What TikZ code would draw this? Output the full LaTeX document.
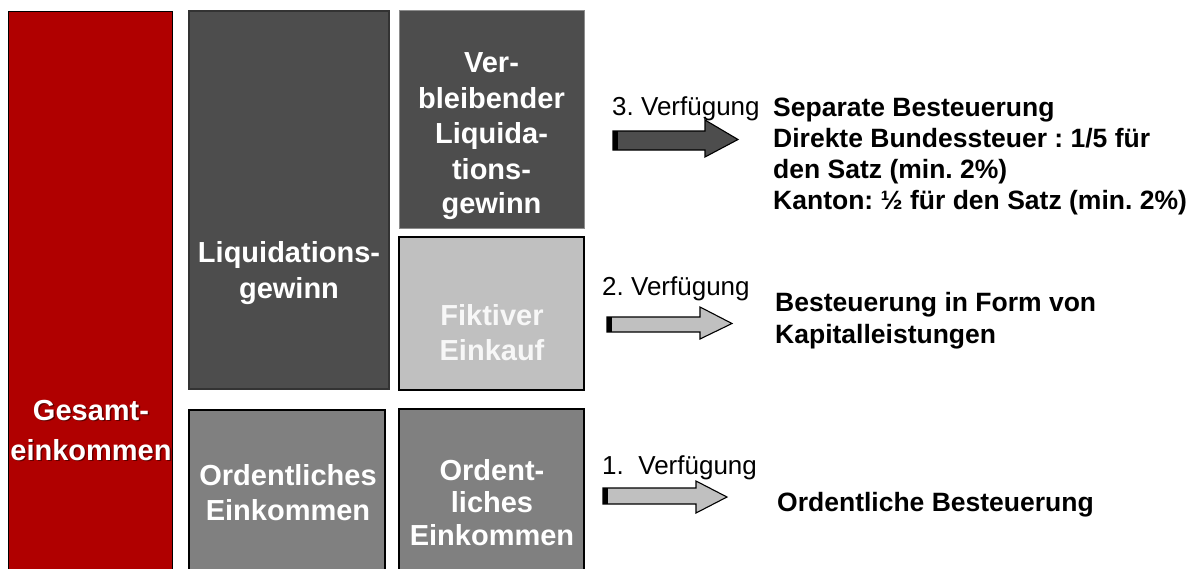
\documentclass[tikz,border=0pt]{standalone}
\usepackage{fontspec}
\setmainfont{Liberation Sans}
\frenchspacing
\definecolor{cred}{HTML}{B00000}
\definecolor{cdark}{HTML}{4D4D4D}
\definecolor{clight}{HTML}{C0C0C0}
\definecolor{cmid}{HTML}{808080}
\begin{document}
\begin{tikzpicture}[x=1pt,y=-1pt,
  box/.style={anchor=north west, inner sep=0pt, outer sep=0pt},
  boxtxt/.style={anchor=base, inner sep=0pt, text=white, font=\fontsize{29}{35}\selectfont\bfseries},
  shadowtxt/.style={anchor=base, inner sep=0pt, text=black, opacity=0.45, font=\fontsize{29}{35}\selectfont\bfseries},
  reg/.style={anchor=base west, inner sep=0pt, font=\fontsize{26}{31}\selectfont},
  bld/.style={anchor=base west, inner sep=0pt, font=\fontsize{26.5}{31}\selectfont\bfseries},
  blockarrow/.style={draw=black, line width=1.1pt, line join=miter}
]
\useasboundingbox (0,0) rectangle (1199,568);
\clip (0,0) rectangle (1199,568);
\fill[white] (0,0) rectangle (1199,568);

% boxes
\node[box, fill=cred, draw=black, line width=0.8pt, minimum width=164pt, minimum height=600pt] (ges) at (8,11) {};
\node[box, fill=cdark, draw=black!80, line width=1.4pt, minimum width=200pt, minimum height=378pt] (liq) at (189,11) {};
\node[box, fill=cmid, draw=black, line width=1.8pt, minimum width=196pt, minimum height=200pt] (ord) at (189,410) {};
\node[box, fill=cdark, draw=black!45, line width=0.8pt, minimum width=185pt, minimum height=218pt] (verb) at (399,10) {};
\node[box, fill=clight, draw=black, line width=1.4pt, minimum width=185pt, minimum height=153pt] (fik) at (399,237) {};
\node[box, fill=cmid, draw=black, line width=1.4pt, minimum width=185pt, minimum height=200pt] (ord2) at (399,409) {};

% box texts
\node[shadowtxt] (gs1) at (92.5,421.5) {Gesamt-};
\node[shadowtxt] (gs2) at (92.5,461.5) {einkommen};
\node[boxtxt] (g1) at (91,420) {Gesamt-};
\node[boxtxt] (g2) at (91,460) {einkommen};

\node[boxtxt] (l1) at (289,262) {Liquidations-};
\node[boxtxt] (l2) at (289,298) {gewinn};

\node[boxtxt] (o1) at (288,485) {Ordentliches};
\node[boxtxt] (o2) at (288,520) {Einkommen};

\node[boxtxt] (v1) at (491.5,72) {Ver-};
\node[boxtxt] (v2) at (491.5,108) {bleibender};
\node[boxtxt] (v3) at (491.5,143) {Liquida-};
\node[boxtxt] (v4) at (491.5,179) {tions-};
\node[boxtxt] (v5) at (491.5,213) {gewinn};

\node[boxtxt, text=white!97!black] (f1) at (492,325) {Fiktiver};
\node[boxtxt, text=white!97!black] (f2) at (492,360) {Einkauf};

\node[boxtxt] (p1) at (492,480) {Ordent-};
\node[boxtxt] (p2) at (492,512) {liches};
\node[boxtxt] (p3) at (492,545) {Einkommen};

% arrows
\draw[blockarrow, fill=cdark] (613,131) -- (705,131) -- (705,120) -- (738,139.5) -- (705,157) -- (705,150) -- (613,150) -- cycle;
\fill[black] (613,131) rectangle (618,150);
\draw[blockarrow, fill=clight] (607,317) -- (700,317) -- (700,307) -- (732,323.5) -- (700,339) -- (700,332) -- (607,332) -- cycle;
\fill[black] (607,317) rectangle (612,332);
\draw[blockarrow, fill=clight] (603,488) -- (696,488) -- (696,481) -- (727,497) -- (696,513) -- (696,504) -- (603,504) -- cycle;
\fill[black] (603,488) rectangle (608,504);

% right texts
\node[reg] (d3) at (612,115) {3. Verfügung};
\node[bld] (t3a) at (773,116) {Separate Besteuerung};
\node[bld] (t3b) at (773,147) {Direkte Bundessteuer : 1/5 für};
\node[bld] (t3c) at (773,178) {den Satz (min. 2\%)};
\node[bld] (t3d) at (773,209) {Kanton: ½ für den Satz (min. 2\%)};

\node[reg] (d2) at (602,295) {2. Verfügung};
\node[bld] (t2a) at (775,311) {Besteuerung in Form von};
\node[bld] (t2b) at (775,343) {Kapitalleistungen};

\node[reg] (d1) at (602,474) {1.\ \ Verfügung};
\node[bld] (t1) at (777,511) {Ordentliche Besteuerung};
\end{tikzpicture}
\end{document}
